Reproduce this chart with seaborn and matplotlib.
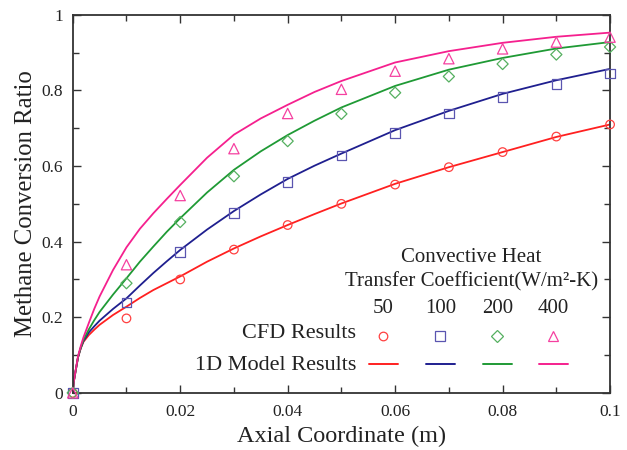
import numpy as np
import pandas as pd
import seaborn as sns
import matplotlib
matplotlib.use("Agg")
import matplotlib.pyplot as plt
from matplotlib.ticker import MultipleLocator, FixedLocator

# ---------------- data ----------------
htc_labels = ["50", "100", "200", "400"]

cfd_x = [0.0, 0.01, 0.02, 0.03, 0.04, 0.05, 0.06, 0.07, 0.08, 0.09, 0.10]
cfd_50 = [0.0, 0.197, 0.300, 0.379, 0.444, 0.500, 0.551, 0.597, 0.637, 0.678, 0.710]
cfd_100 = [0.0, 0.239, 0.372, 0.475, 0.557, 0.628, 0.687, 0.739, 0.782, 0.817, 0.845]
cfd_200 = [0.0, 0.290, 0.452, 0.573, 0.666, 0.738, 0.794, 0.837, 0.870, 0.895, 0.915]
cfd_400 = [0.0, 0.339, 0.522, 0.646, 0.739, 0.803, 0.851, 0.884, 0.910, 0.928, 0.941]

model_x = [0.0, 0.0002, 0.0005, 0.001, 0.0015, 0.002, 0.003, 0.004, 0.005, 0.0075,
           0.01, 0.0125, 0.015, 0.0175, 0.02, 0.025, 0.03, 0.035, 0.04, 0.045,
           0.05, 0.06, 0.07, 0.08, 0.09, 0.10]
model_50 = [0.0, 0.030, 0.055, 0.095, 0.118, 0.135, 0.153, 0.167, 0.180, 0.206,
            0.228, 0.251, 0.272, 0.290, 0.308, 0.347, 0.382, 0.414, 0.444, 0.473,
            0.501, 0.553, 0.597, 0.637, 0.677, 0.710]
model_100 = [0.0, 0.030, 0.055, 0.095, 0.119, 0.137, 0.160, 0.176, 0.191, 0.222,
             0.250, 0.284, 0.317, 0.348, 0.378, 0.432, 0.481, 0.525, 0.566, 0.601,
             0.633, 0.695, 0.746, 0.791, 0.827, 0.857]
model_200 = [0.0, 0.030, 0.055, 0.096, 0.120, 0.140, 0.168, 0.192, 0.214, 0.260,
             0.303, 0.347, 0.387, 0.426, 0.462, 0.530, 0.590, 0.639, 0.682, 0.720,
             0.755, 0.812, 0.855, 0.886, 0.911, 0.928]
model_400 = [0.0, 0.030, 0.056, 0.098, 0.124, 0.147, 0.185, 0.222, 0.255, 0.325,
             0.385, 0.434, 0.475, 0.513, 0.550, 0.622, 0.683, 0.726, 0.762, 0.796,
             0.825, 0.874, 0.904, 0.926, 0.942, 0.953]

x_ticks = [0, 0.02, 0.04, 0.06, 0.08, 0.1]
x_tick_labels = ["0", "0.02", "0.04", "0.06", "0.08", "0.1"]
y_ticks = [0, 0.2, 0.4, 0.6, 0.8, 1.0]
y_tick_labels = ["0", "0.2", "0.4", "0.6", "0.8", "1"]

# ---------------- style ----------------
sns.set_style("ticks")
plt.rcParams["font.family"] = ["Liberation Serif", "DejaVu Serif"]

line_colors = ["#ff2020", "#1f1f8f", "#1f9a35", "#f5208e"]
marker_colors = ["#ff4040", "#5a55b0", "#55b060", "#f540a0"]
markers = ["o", "s", "D", "^"]
msizes = [38, 48, 32, 55]

cfd_series = [cfd_50, cfd_100, cfd_200, cfd_400]
model_series = [model_50, model_100, model_200, model_400]

fig = plt.figure(figsize=(6.27, 4.5), dpi=100)
ax = fig.add_axes([0.116, 0.127, 0.857, 0.840])

for i, lab in enumerate(htc_labels):
    dfm = pd.DataFrame({"x": model_x, "y": model_series[i]})
    sns.lineplot(data=dfm, x="x", y="y", ax=ax, color=line_colors[i],
                 linewidth=1.3, sort=False, errorbar=None)
for i, lab in enumerate(htc_labels):
    dfc = pd.DataFrame({"x": cfd_x, "y": cfd_series[i]})
    sns.scatterplot(data=dfc, x="x", y="y", ax=ax, marker=markers[i],
                    s=msizes[i], facecolors="none", edgecolor=marker_colors[i],
                    linewidth=0.9, clip_on=False, zorder=5)

ax.set_xlim(0, 0.1)
ax.set_ylim(0, 1)
ax.xaxis.set_major_locator(FixedLocator(x_ticks))
ax.set_xticklabels(x_tick_labels)
ax.yaxis.set_major_locator(FixedLocator(y_ticks))
ax.set_yticklabels(y_tick_labels)
ax.xaxis.set_minor_locator(MultipleLocator(0.01))
ax.yaxis.set_minor_locator(MultipleLocator(0.1))
ax.tick_params(which="both", direction="in", top=True, right=True,
               width=1.0, colors="#333333", labelcolor="#222222")
ax.tick_params(which="major", length=6, labelsize=12.5)
ax.tick_params(axis="x", which="major", pad=8)
ax.tick_params(axis="y", which="major", pad=7)
ax.tick_params(which="minor", length=4)
for sp in ax.spines.values():
    sp.set_linewidth(1.3)
    sp.set_color("#333333")
    sp.set_visible(True)

ax.set_xlabel("Axial Coordinate (m)", fontsize=17.5, color="#222222", labelpad=4)
ax.set_ylabel("Methane Conversion Ratio", fontsize=17.8, color="#222222", labelpad=3)

# ---------------- custom legend block ----------------
def ax_x(px):
    return (px - 72.7) / 537.0

def ax_y(py):
    return (393.0 - py) / 378.0

tc = "#222222"
ax.text(ax_x(471), ax_y(258), "Convective Heat", transform=ax.transAxes,
        ha="center", va="center", fontsize=15, color=tc)
ax.text(ax_x(471), ax_y(282), "Transfer Coefficient(W/m²-K)", transform=ax.transAxes,
        ha="center", va="center", fontsize=15, color=tc)
col_px = [383, 440, 497, 553]
for i, lab in enumerate(htc_labels):
    ax.text(ax_x(col_px[i]), ax_y(309), lab, transform=ax.transAxes,
            ha="center", va="center", fontsize=15, color=tc)
    ax.plot([ax_x(col_px[i])], [ax_y(336)], transform=ax.transAxes,
            marker=markers[i], markersize=np.sqrt(msizes[i]), mfc="none",
            mec=marker_colors[i], mew=0.9, linestyle="none", clip_on=False)
    ax.plot([ax_x(col_px[i] - 14.5), ax_x(col_px[i] + 14.5)], [ax_y(364), ax_y(364)],
            transform=ax.transAxes, color=line_colors[i], linewidth=1.4)
ax.text(ax_x(356), ax_y(334), "CFD Results", transform=ax.transAxes,
        ha="right", va="center", fontsize=16, color=tc)
ax.text(ax_x(356), ax_y(366), "1D Model Results", transform=ax.transAxes,
        ha="right", va="center", fontsize=16, color=tc)

fig.savefig("out.png", dpi=100)
